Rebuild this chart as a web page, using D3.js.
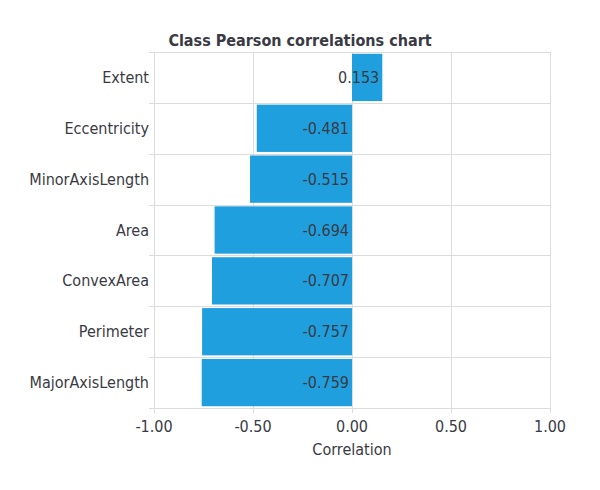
<!DOCTYPE html>
<html>
<head>
<meta charset="utf-8">
<script src="https://cdn.jsdelivr.net/npm/d3@7"></script>
<style>
  body { margin: 0; background: #fff; }
  text { font-family: "DejaVu Sans Condensed", "DejaVu Sans", sans-serif; fill: #3a3a44; }
</style>
</head>
<body>
<div id="chart"></div>
<script>
const categories = ["Extent", "Eccentricity", "MinorAxisLength", "Area", "ConvexArea", "Perimeter", "MajorAxisLength"];
const values = [0.153, -0.481, -0.515, -0.694, -0.707, -0.757, -0.759];
const xTicks = [-1, -0.5, 0, 0.5, 1];

const width = 600;
const height = 490;
const margin = { top: 52, right: 50, bottom: 82, left: 154 };

const svg = d3.select("#chart")
  .append("svg")
  .attr("width", width)
  .attr("height", height);

const x = d3.scaleLinear()
  .domain([-1, 1])
  .range([margin.left, width - margin.right]);

const y = d3.scaleBand()
  .domain(categories)
  .range([margin.top, height - margin.bottom])
  .paddingInner(0.07)
  .paddingOuter(0.035);

const gridColor = "#dcdcdc";
const plotBottom = height - margin.bottom;

// vertical grid lines
svg.append("g")
  .selectAll("line")
  .data(xTicks)
  .enter()
  .append("line")
  .attr("x1", d => x(d) + 0.5)
  .attr("x2", d => x(d) + 0.5)
  .attr("y1", margin.top)
  .attr("y2", plotBottom + 5)
  .attr("stroke", gridColor);

// horizontal separators between categories
const bounds = d3.range(categories.length + 1).map(i => margin.top + i * (plotBottom - margin.top) / categories.length);
svg.append("g")
  .selectAll("line")
  .data(bounds)
  .enter()
  .append("line")
  .attr("x1", margin.left - 5)
  .attr("x2", width - margin.right)
  .attr("y1", d => Math.round(d) + 0.5)
  .attr("y2", d => Math.round(d) + 0.5)
  .attr("stroke", gridColor);

// bars
svg.append("g")
  .selectAll("rect")
  .data(values)
  .enter()
  .append("rect")
  .attr("x", d => x(Math.min(0, d)))
  .attr("width", d => Math.abs(x(d) - x(0)))
  .attr("y", (d, i) => y(categories[i]))
  .attr("height", y.bandwidth())
  .attr("fill", "#209fde");

// value labels
svg.append("g")
  .selectAll("text")
  .data(values)
  .enter()
  .append("text")
  .attr("x", d => x(Math.max(0, d)) - 3)
  .attr("y", (d, i) => y(categories[i]) + y.bandwidth() / 2)
  .attr("dy", "0.35em")
  .attr("text-anchor", "end")
  .style("font-size", "16px")
  .text(d => d.toFixed(3));

// category labels
svg.append("g")
  .selectAll("text")
  .data(categories)
  .enter()
  .append("text")
  .attr("x", margin.left - 5)
  .attr("y", d => y(d) + y.bandwidth() / 2)
  .attr("dy", "0.35em")
  .attr("text-anchor", "end")
  .style("font-size", "16px")
  .text(d => d);

// x tick labels
svg.append("g")
  .selectAll("text")
  .data(xTicks)
  .enter()
  .append("text")
  .attr("x", d => x(d))
  .attr("y", plotBottom + 24)
  .attr("text-anchor", "middle")
  .style("font-size", "16px")
  .text(d => d.toFixed(2));

// axis title
svg.append("text")
  .attr("x", x(0))
  .attr("y", plotBottom + 47)
  .attr("text-anchor", "middle")
  .style("font-size", "16px")
  .text("Correlation");

// chart title
svg.append("text")
  .attr("x", width / 2)
  .attr("y", 46)
  .attr("text-anchor", "middle")
  .style("font-size", "16px")
  .style("font-weight", "bold")
  .text("Class Pearson correlations chart");
</script>
</body>
</html>
